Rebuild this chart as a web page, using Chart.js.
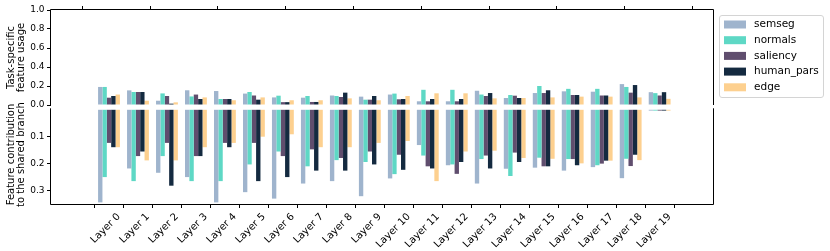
<!DOCTYPE html>
<html>
<head>
<meta charset="utf-8">
<script src="https://cdn.jsdelivr.net/npm/chart.js@4"></script>
<style>
  body { margin: 0; background: #fff; }
  canvas { display: block; }
</style>
</head>
<body>
<canvas id="chart" width="830" height="251"></canvas>
<script>
const layers = ['Layer 0', 'Layer 1', 'Layer 2', 'Layer 3', 'Layer 4', 'Layer 5', 'Layer 6', 'Layer 7', 'Layer 8', 'Layer 9',
  'Layer 10', 'Layer 11', 'Layer 12', 'Layer 13', 'Layer 14', 'Layer 15', 'Layer 16', 'Layer 17', 'Layer 18', 'Layer 19'];
const tasks = ['semseg', 'normals', 'saliency', 'human_pars', 'edge'];
const colors = ['#9fb4cd', '#5ed8c5', '#604e6e', '#142a40', '#fdd08f'];

// top panel: task-specific feature usage
const usageSemseg = [0.19, 0.154, 0.045, 0.155, 0.147, 0.12, 0.08, 0.077, 0.10, 0.088, 0.11, 0.039, 0.039, 0.15, 0.074, 0.126, 0.144, 0.14, 0.22, 0.135];
const usageNormals = [0.19, 0.137, 0.122, 0.09, 0.063, 0.137, 0.098, 0.095, 0.095, 0.056, 0.12, 0.16, 0.16, 0.11, 0.105, 0.2, 0.17, 0.17, 0.19, 0.125];
const usageSaliency = [0.077, 0.137, 0.095, 0.11, 0.063, 0.1, 0.03, 0.032, 0.084, 0.056, 0.06, 0.039, 0.039, 0.095, 0.098, 0.126, 0.105, 0.1, 0.13, 0.10];
const usageHuman = [0.095, 0.137, 0.014, 0.063, 0.063, 0.056, 0.03, 0.032, 0.13, 0.095, 0.063, 0.063, 0.063, 0.126, 0.074, 0.155, 0.105, 0.1, 0.21, 0.135];
const usageEdge = [0.11, 0.045, 0.028, 0.08, 0.05, 0.08, 0.05, 0.05, 0.07, 0.05, 0.095, 0.123, 0.123, 0.07, 0.074, 0.08, 0.088, 0.088, 0.08, 0.065];

// bottom panel: feature contribution to the shared branch
const contribSemseg = [0.344, 0.218, 0.234, 0.25, 0.344, 0.306, 0.33, 0.274, 0.265, 0.321, 0.255, 0.131, 0.206, 0.274, 0.219, 0.215, 0.226, 0.213, 0.254, 0.003];
const contribNormals = [0.25, 0.265, 0.172, 0.265, 0.265, 0.203, 0.155, 0.21, 0.187, 0.194, 0.239, 0.17, 0.203, 0.183, 0.246, 0.178, 0.183, 0.206, 0.182, 0.003];
const contribSaliency = [0.123, 0.172, 0.123, 0.172, 0.123, 0.123, 0.172, 0.147, 0.179, 0.155, 0.167, 0.21, 0.238, 0.17, 0.159, 0.21, 0.183, 0.2, 0.209, 0.003];
const contribHuman = [0.139, 0.155, 0.282, 0.172, 0.139, 0.265, 0.25, 0.226, 0.226, 0.203, 0.223, 0.218, 0.194, 0.218, 0.194, 0.21, 0.206, 0.189, 0.167, 0.003];
const contribEdge = [0.139, 0.188, 0.188, 0.139, 0.123, 0.1, 0.091, 0.139, 0.139, 0.123, 0.116, 0.265, 0.155, 0.152, 0.179, 0.182, 0.199, 0.189, 0.187, 0.003];

const usageTicks = [0, 0.2, 0.4, 0.6, 0.8, 1.0];
const contribTicks = [0.1, 0.2, 0.3];
const topTicks = [-0.38, 2.12, 4.62, 7.12, 9.62, 12.12, 14.62, 17.12, 19.62];

const usage = [usageSemseg, usageNormals, usageSaliency, usageHuman, usageEdge];
const contrib = [contribSemseg, contribNormals, contribSaliency, contribHuman, contribEdge];

const FONT = '"DejaVu Sans", sans-serif';
const toPoints = (vals) => vals.map((v, i) => ({ x: i, y: v }));

const datasets = [];
tasks.forEach((t, k) => datasets.push({
  label: t, data: toPoints(usage[k]), yAxisID: 'yTop', stack: t,
  backgroundColor: colors[k], categoryPercentage: 0.754, barPercentage: 1.0
}));
tasks.forEach((t, k) => datasets.push({
  label: t, data: toPoints(contrib[k]), yAxisID: 'yBottom', stack: t,
  backgroundColor: colors[k], categoryPercentage: 0.754, barPercentage: 1.0
}));

// spines with a small break between the two panels
const spines = {
  id: 'spines',
  afterDraw(chart) {
    const { ctx, chartArea: a, scales } = chart;
    const zTop = scales.yTop.getPixelForValue(0);
    const zBot = scales.yBottom.getPixelForValue(0) - 1.5;
    ctx.save();
    ctx.strokeStyle = '#000';
    ctx.lineWidth = 1;
    ctx.beginPath();
    const L = Math.round(a.left) - 0.5, R = Math.round(a.right) + 0.5;
    const T = Math.round(a.top) - 0.5, B = Math.round(a.bottom) + 0.5;
    ctx.moveTo(L, zTop); ctx.lineTo(L, T); ctx.lineTo(R, T); ctx.lineTo(R, zTop);
    ctx.moveTo(L, zBot); ctx.lineTo(L, B); ctx.lineTo(R, B); ctx.lineTo(R, zBot);
    ctx.stroke();
    ctx.restore();
  }
};

const legendBox = {
  id: 'legendBox',
  afterDraw(chart) {
    const { ctx, chartArea } = chart;
    const x = Math.round(chartArea.right) + 6, y = Math.round(chartArea.top) + 5;
    const w = 104, h = 82;
    ctx.save();
    ctx.fillStyle = 'rgba(255,255,255,0.8)';
    ctx.strokeStyle = '#d4d4d4';
    ctx.lineWidth = 1;
    ctx.beginPath();
    ctx.roundRect(x + 0.5, y + 0.5, w, h, 2.5);
    ctx.fill();
    ctx.stroke();
    ctx.font = '10.5px ' + FONT;
    ctx.textBaseline = 'middle';
    tasks.forEach((t, k) => {
      const cy = y + 9.5 + k * 15.7;
      ctx.fillStyle = colors[k];
      ctx.fillRect(x + 5, cy - 4, 22, 8);
      ctx.fillStyle = '#000';
      ctx.fillText(t, x + 35, cy);
    });
    ctx.restore();
  }
};

const tickFont = { family: FONT, size: 9 };
const titleFont = { family: FONT, size: 10, lineHeight: 1.05 };

new Chart(document.getElementById('chart'), {
  type: 'bar',
  data: { datasets },
  options: {
    responsive: false,
    animation: false,
    layout: { padding: { right: 117 } },
    plugins: { legend: { display: false }, tooltip: { enabled: false } },
    scales: {
      x: {
        type: 'linear', position: 'bottom', min: -1.43, max: 20.27,
        afterBuildTicks: (axis) => { axis.ticks = layers.map((_, i) => ({ value: i })); },
        afterFit: (axis) => { axis.height = 47; },
        border: { display: false },
        grid: { drawOnChartArea: false, drawTicks: true, tickLength: 4, color: '#000' },
        ticks: {
          autoSkip: false, minRotation: 45, maxRotation: 45, padding: 3, labelOffset: 10,
          color: '#000', font: { family: FONT, size: 10 },
          callback: (v) => layers[v]
        }
      },
      xTop: {
        type: 'linear', position: 'top', min: -1.43, max: 20.27,
        afterBuildTicks: (axis) => { axis.ticks = topTicks.map((v) => ({ value: v })); },
        afterFit: (axis) => { axis.height = 10; },
        border: { display: false },
        grid: { drawOnChartArea: false, drawTicks: true, tickLength: 4, color: '#000' },
        ticks: { display: false, autoSkip: false }
      },
      yBottom: {
        type: 'linear', position: 'left', stack: 'panels', stackWeight: 99, weight: 0,
        min: -0.0178, max: 0.35, reverse: true, stacked: false,
        afterBuildTicks: (axis) => { axis.ticks = contribTicks.map((v) => ({ value: v })); },
        afterFit: (axis) => { axis.width = 51; },
        border: { display: false },
        grid: { drawOnChartArea: false, drawTicks: true, tickLength: 4, color: '#000' },
        ticks: { autoSkip: false, padding: 2.5, color: '#000', font: tickFont, callback: (v) => v.toFixed(1) },
        title: {
          display: true, text: ['Feature contribution', 'to the shared branch'],
          color: '#000', font: titleFont, padding: { top: 5.75, bottom: 0 }
        }
      },
      yTop: {
        type: 'linear', position: 'left', stack: 'panels', stackWeight: 95, weight: 1,
        min: 0, max: 1.0, stacked: false,
        afterBuildTicks: (axis) => { axis.ticks = usageTicks.map((v) => ({ value: v })); },
        afterFit: (axis) => { axis.width = 51; },
        border: { display: false },
        grid: { drawOnChartArea: false, drawTicks: true, tickLength: 4, color: '#000' },
        ticks: { autoSkip: false, padding: 2.5, color: '#000', font: tickFont, callback: (v) => v.toFixed(1) },
        title: {
          display: true, text: ['Task-specific', 'feature usage'],
          color: '#000', font: titleFont, padding: { top: 5.75, bottom: 0 }
        }
      }
    }
  },
  plugins: [spines, legendBox]
});
</script>
</body>
</html>
